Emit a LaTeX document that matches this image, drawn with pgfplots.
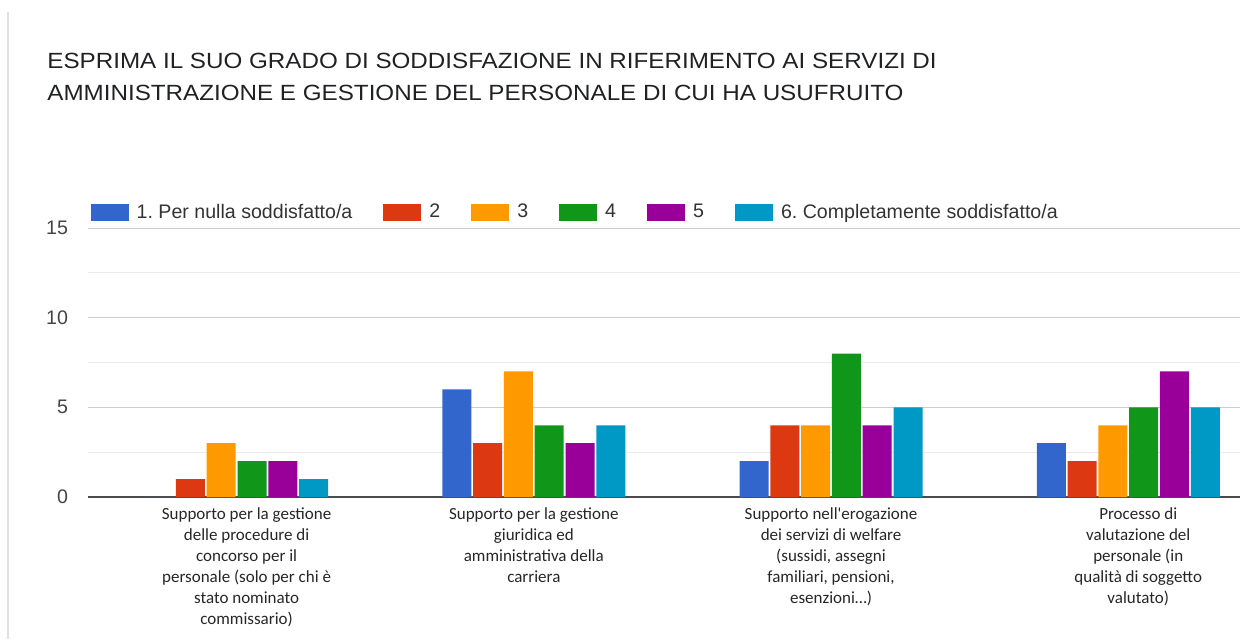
\documentclass[border=0pt]{standalone}
\usepackage{fontspec}
\setmainfont{Liberation Sans}
\newfontfamily\carlito{Carlito}
\newfontfamily\titlefont{Liberation Sans}[FakeStretch=1.1]
\usepackage{pgfplots}
\pgfplotsset{compat=1.18}
\frenchspacing

\definecolor{c1}{HTML}{3366CC}
\definecolor{c2}{HTML}{DC3912}
\definecolor{c3}{HTML}{FF9900}
\definecolor{c4}{HTML}{109618}
\definecolor{c5}{HTML}{990099}
\definecolor{c6}{HTML}{0099C6}
\definecolor{ticktxt}{HTML}{444444}
\definecolor{legtxt}{HTML}{333333}
\definecolor{titletxt}{HTML}{202124}

\pgfplotsset{
  swatch/.style={
    draw=none, fill=#1,
    legend image code/.code={\path[fill=#1] (0pt,-4.3pt) rectangle (19pt,4.3pt);}
  }
}

\begin{document}
\begin{tikzpicture}[x=0.5pt,y=0.5pt]
% axis box lower-left sits at (0,0); one unit = one reference pixel
\begin{axis}[
    scale only axis,
    width=576pt, height=134.5pt,
    ybar=0.9pt, bar width=14.5pt,
    xmin=-0.5, xmax=3.376,
    ymin=0, ymax=15,
    xtick={1,2},
    xticklabels={
      {Supporto per la gestione\\giuridica ed\\amministrativa della\\carriera},
      {Supporto nell'erogazione\\dei servizi di welfare\\(sussidi, assegni\\familiari, pensioni,\\esenzioni…)}
    },
    extra x ticks={0,3},
    extra x tick labels={
      {Supporto per la gestione\\delle procedure di\\concorso per il\\personale (solo per chi è\\stato nominato\\commissario)},
      {Processo di\\valutazione del\\personale (in\\qualità di soggetto\\valutato)}
    },
    extra x tick style={xticklabel style={xshift=5pt}},
    xticklabel style={align=center, text=black!85, yshift=-2pt,
      font=\carlito\fontsize{8.5}{10.5}\selectfont},
    ytick={5,10,15},
    extra y ticks={0},
    extra y tick style={major grid style={draw=black!70, line width=1pt}},
    minor ytick={2.5,7.5,12.5},
    ymajorgrids, yminorgrids,
    major grid style={draw=black!20, line width=0.5pt},
    minor grid style={draw=black!8, line width=0.5pt},
    major tick length=0pt, minor tick length=0pt,
    axis line style={draw=none},
    yticklabel style={text=ticktxt, xshift=-6.5pt,
      font=\fontsize{9.8}{11}\selectfont},
    /pgf/number format/assume math mode=true,
    legend columns=6,
    legend style={at={(0.002,1.058)}, anchor=west, draw=none, fill=none,
      inner sep=0pt, column sep=0pt,
      nodes={inner sep=0pt, text=legtxt, font=\fontsize{9.8}{11}\selectfont}},
    /tikz/every odd column/.append style={column sep=4pt},
    /tikz/every even column/.append style={column sep=15.5pt},
]
\addplot[swatch=c1] coordinates {(0,0) (1,6) (2,2) (3,3)};
\addplot[swatch=c2] coordinates {(0,1) (1,3) (2,4) (3,2)};
\addplot[swatch=c3] coordinates {(0,3) (1,7) (2,4) (3,4)};
\addplot[swatch=c4] coordinates {(0,2) (1,4) (2,8) (3,5)};
\addplot[swatch=c5] coordinates {(0,2) (1,3) (2,4) (3,7)};
\addplot[swatch=c6] coordinates {(0,1) (1,4) (2,5) (3,5)};
\legend{1. Per nulla soddisfatto/a, 2, 3, 4, 5, 6. Completamente soddisfatto/a}
\end{axis}

\begin{scope}[shift={(-88,-142)}]
\draw[black!12, line width=0.6pt] (8,0) -- (8,627);
\node[anchor=north west, inner sep=0pt, align=left, text=titletxt,
      font=\titlefont\fontsize{11}{16}\selectfont] at (47,586)
  {ESPRIMA IL SUO GRADO DI SODDISFAZIONE IN RIFERIMENTO AI SERVIZI DI\\
   AMMINISTRAZIONE E GESTIONE DEL PERSONALE DI CUI HA USUFRUITO};
\pgfresetboundingbox
\path[use as bounding box] (0,0) rectangle (1244,639);
\end{scope}
\end{tikzpicture}
\end{document}
